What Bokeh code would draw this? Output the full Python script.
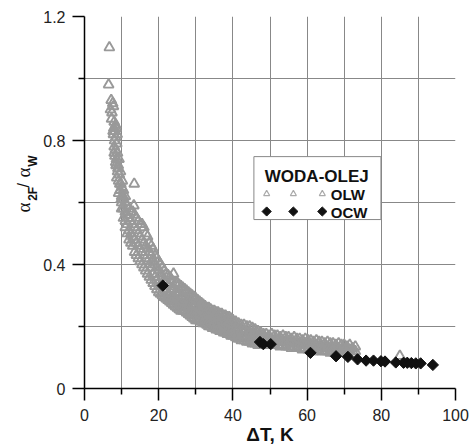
import math
from bokeh.plotting import figure
from bokeh.layouts import row
from bokeh.models import Range1d, FixedTicker, Label
from bokeh.embed import file_html
from bokeh.resources import INLINE

# ---------------- data ----------------
x_ticks = [0, 20, 40, 60, 80, 100]
x_minor = [10, 30, 50, 70, 90]
x_grid = [10, 20, 30, 40, 50, 60, 70, 80, 90, 100]
y_ticks = [0, 0.4, 0.8, 1.2]
y_tick_labels = ["0", "0.4", "0.8", "1.2"]
y_minor = [0.2, 0.6, 1.0]
y_grid = [0.2, 0.4, 0.6, 0.8, 1.0]

# OLW (open grey triangles) - steep top part and stray points
olw_sparse_x = [
    6.7, 6.5, 7.2, 7.6, 7.0, 7.4, 7.8, 7.3, 7.9, 8.2, 8.5,
    7.8, 8.1, 8.4, 8.0, 8.3, 8.7, 8.2, 8.6, 8.9, 8.5, 9.1,
    9.3, 8.9, 9.4, 9.7, 9.2, 9.8, 10.2, 9.6, 13.4, 13.3,
    8.0, 8.4, 7.7, 8.8, 8.0, 8.4, 9.0, 8.7, 9.5, 10.0, 9.2,
    10.4, 9.9, 11.0, 10.5, 85.0,
]
olw_sparse_y = [
    1.10, 0.98, 0.93, 0.92, 0.90, 0.89, 0.91, 0.87, 0.84, 0.83, 0.84,
    0.82, 0.80, 0.81, 0.78, 0.77, 0.79, 0.75, 0.74, 0.76, 0.72, 0.72,
    0.74, 0.70, 0.69, 0.70, 0.67, 0.66, 0.67, 0.64, 0.66, 0.59,
    0.86, 0.85, 0.83, 0.82, 0.76, 0.73, 0.71, 0.68, 0.66, 0.65, 0.63,
    0.62, 0.61, 0.62, 0.64, 0.105,
]
# OLW - the dense band, column by column (x, then the y values seen at that x)
olw_col_x = [
    10, 10.5, 11, 11.5, 12, 12.5, 13, 13.5, 14, 14.5, 15, 15.5, 16, 16.5,
    17, 17.5, 18, 18.5, 19, 19.5, 20, 20.5, 21, 21.5, 22, 22.5, 23, 23.5,
    24, 24.5, 25, 25.5, 26, 26.5, 27, 27.5, 28, 28.5, 29, 29.5, 30, 30.5,
    31, 31.5, 32, 32.5, 33, 33.5, 34, 34.5, 35, 35.5, 36, 36.5, 37, 37.5,
    38, 38.5, 39, 39.5, 40, 40.75, 41.5, 42.25, 43, 43.75, 44.5, 45.25,
    46, 46.75, 47.5, 48.25, 49, 49.75, 50.5, 51.25, 52, 52.75, 53.5, 54.25,
    55, 55.75, 56.5, 57.25, 58, 58.75, 59.5, 60.25, 61, 61.75, 62.5, 63.25,
    64, 64.75, 65.5, 66.25, 67, 67.75, 68.5, 69.25, 70, 70.75, 71.5, 72.25, 73,
]
olw_col_y = [
    [0.62, 0.60, 0.58], [0.61, 0.58, 0.55], [0.60, 0.57, 0.54, 0.52],
    [0.59, 0.56, 0.53, 0.50], [0.58, 0.55, 0.51, 0.48], [0.57, 0.54, 0.50, 0.47],
    [0.57, 0.53, 0.49, 0.46], [0.56, 0.52, 0.48, 0.44], [0.55, 0.51, 0.47, 0.43],
    [0.54, 0.50, 0.46, 0.42], [0.53, 0.49, 0.45, 0.41], [0.53, 0.48, 0.44, 0.40],
    [0.52, 0.47, 0.43, 0.39], [0.50, 0.46, 0.42, 0.38], [0.49, 0.45, 0.41, 0.37],
    [0.47, 0.44, 0.40, 0.36], [0.46, 0.43, 0.39, 0.35], [0.45, 0.41, 0.37, 0.34],
    [0.43, 0.40, 0.36, 0.33], [0.42, 0.39, 0.35, 0.32], [0.41, 0.38, 0.34, 0.31],
    [0.40, 0.37, 0.33, 0.305], [0.39, 0.36, 0.33, 0.30], [0.38, 0.35, 0.32, 0.295],
    [0.37, 0.34, 0.31, 0.29], [0.365, 0.335, 0.305, 0.285], [0.36, 0.33, 0.30, 0.28],
    [0.35, 0.32, 0.295, 0.275], [0.37, 0.32, 0.29, 0.27], [0.34, 0.31, 0.285, 0.265],
    [0.34, 0.31, 0.28, 0.26], [0.335, 0.305, 0.275, 0.255], [0.33, 0.30, 0.27, 0.25],
    [0.325, 0.295, 0.27, 0.25], [0.32, 0.29, 0.27, 0.25], [0.315, 0.285, 0.265, 0.245],
    [0.31, 0.28, 0.26, 0.24], [0.305, 0.28, 0.255, 0.235], [0.30, 0.27, 0.25, 0.23],
    [0.295, 0.27, 0.245, 0.225], [0.29, 0.27, 0.24, 0.22], [0.285, 0.265, 0.24, 0.22],
    [0.28, 0.26, 0.24, 0.22], [0.275, 0.255, 0.235, 0.215], [0.27, 0.25, 0.23, 0.21],
    [0.265, 0.245, 0.225, 0.21], [0.26, 0.24, 0.22, 0.205], [0.26, 0.24, 0.22, 0.20],
    [0.255, 0.235, 0.215, 0.20], [0.25, 0.23, 0.21, 0.195], [0.25, 0.23, 0.21, 0.195],
    [0.245, 0.225, 0.205, 0.19], [0.245, 0.225, 0.205, 0.19], [0.24, 0.22, 0.20, 0.185],
    [0.24, 0.22, 0.20, 0.185], [0.235, 0.215, 0.195, 0.18], [0.235, 0.215, 0.195, 0.18],
    [0.23, 0.21, 0.19, 0.175], [0.23, 0.21, 0.19, 0.175], [0.225, 0.205, 0.185, 0.17],
    [0.22, 0.205, 0.185, 0.17], [0.215, 0.195, 0.18, 0.165], [0.21, 0.19, 0.17, 0.16],
    [0.205, 0.19, 0.17, 0.155], [0.205, 0.185, 0.165, 0.155], [0.20, 0.18, 0.165, 0.15],
    [0.20, 0.18, 0.16, 0.15], [0.195, 0.175, 0.16, 0.145], [0.19, 0.175, 0.155, 0.145],
    [0.185, 0.17, 0.15, 0.14], [0.18, 0.165, 0.15, 0.14], [0.175, 0.155, 0.14],
    [0.175, 0.16, 0.145], [0.17, 0.155, 0.14], [0.175, 0.16, 0.145], [0.17, 0.155, 0.14],
    [0.17, 0.155, 0.14], [0.165, 0.15, 0.135], [0.17, 0.155, 0.14], [0.165, 0.15, 0.135],
    [0.165, 0.15, 0.135], [0.16, 0.145, 0.13], [0.165, 0.15, 0.135], [0.16, 0.145, 0.13],
    [0.16, 0.145, 0.13], [0.155, 0.14, 0.125], [0.16, 0.145, 0.13], [0.155, 0.14, 0.125],
    [0.155, 0.14, 0.125], [0.15, 0.135, 0.12], [0.155, 0.14, 0.125], [0.15, 0.135, 0.12],
    [0.15, 0.135, 0.12], [0.145, 0.13, 0.12], [0.15, 0.135, 0.12], [0.145, 0.13, 0.115],
    [0.145, 0.13, 0.12], [0.14, 0.125, 0.115], [0.145, 0.13, 0.115], [0.14, 0.125, 0.115],
    [0.14, 0.125, 0.115], [0.135, 0.12], [0.14, 0.125], [0.13, 0.12], [0.135, 0.12],
]

# OCW (black diamonds)
ocw_x = [21.1, 47.3, 48.2, 50.2, 60.9, 67.8, 71.0, 73.6, 75.9, 77.9,
         79.9, 81.0, 83.9, 86.0, 87.0, 88.1, 89.3, 90.6, 93.9]
ocw_y = [0.332, 0.150, 0.143, 0.143, 0.115, 0.104, 0.102, 0.094, 0.090, 0.090,
         0.088, 0.087, 0.084, 0.083, 0.083, 0.082, 0.081, 0.081, 0.076]

legend_title = "WODA-OLEJ"
series_names = ["OLW", "OCW"]
x_title = "\u0394T, K"

olw_x = list(olw_sparse_x)
olw_y = list(olw_sparse_y)
for cx, ys in zip(olw_col_x, olw_col_y):
    for yv in ys:
        olw_x.append(cx)
        olw_y.append(yv)

# ---------------- figure ----------------
FONT = "Liberation Sans"
p = figure(width=430, height=448,
           x_range=Range1d(0, 100), y_range=Range1d(0, 1.2),
           output_backend="svg", toolbar_location=None,
           min_border_left=42, min_border_right=15,
           min_border_top=16, min_border_bottom=60)
p.outline_line_color = None
p.background_fill_color = "white"
p.border_fill_color = "white"

xa = p.xaxis[0]
ya = p.yaxis[0]
xa.ticker = FixedTicker(ticks=x_ticks, minor_ticks=x_minor)
ya.ticker = FixedTicker(ticks=y_ticks, minor_ticks=y_minor)
ya.major_label_overrides = {t: s for t, s in zip(y_ticks, y_tick_labels)}
for ax in (xa, ya):
    ax.axis_line_color = "black"
    ax.axis_line_width = 1.5
    ax.major_tick_line_color = "black"
    ax.major_tick_line_width = 1.5
    ax.minor_tick_line_color = "black"
    ax.minor_tick_line_width = 1.5
    ax.major_tick_out = 12
    ax.major_tick_in = 0
    ax.minor_tick_out = 6
    ax.minor_tick_in = 0
    ax.major_label_text_font = FONT
    ax.major_label_text_font_size = "16px"
    ax.major_label_text_color = "#222222"
ya.axis_label = None
ya.major_label_standoff = 7
xa.major_label_standoff = 8
xa.axis_label = x_title
xa.axis_label_text_font = FONT
xa.axis_label_text_font_style = "bold"
xa.axis_label_text_font_size = "19px"
xa.axis_label_text_color = "#111111"
xa.axis_label_standoff = 0

p.xgrid[0].ticker = FixedTicker(ticks=x_grid)
p.ygrid[0].ticker = FixedTicker(ticks=y_grid)
for g in (p.xgrid[0], p.ygrid[0]):
    g.grid_line_color = "#888888"
    g.grid_line_width = 1

# data
p.scatter(olw_x, olw_y, marker="triangle", size=10, fill_color=None,
          line_color="#999999", line_width=1.9)
p.scatter(ocw_x, ocw_y, marker="square", size=8, angle=math.pi / 4,
          fill_color="#111111", line_color="#111111", line_width=1)

# legend (drawn by hand)
p.quad(left=[45.66], right=[79.9], top=[0.748], bottom=[0.545],
       fill_color="white", line_color="#888888", line_width=1)
p.scatter([49.1, 56.3, 64.1], [0.628, 0.628, 0.628], marker="triangle", size=6,
          fill_color=None, line_color="#aaaaaa", line_width=1.2)
p.scatter([49.1, 56.3, 64.1], [0.571, 0.571, 0.571], marker="square", size=6.5,
          angle=math.pi / 4, fill_color="#111111", line_color="#111111")
p.add_layout(Label(x=48.6, y=0.685, text=legend_title, text_font=FONT,
                   text_font_style="bold", text_font_size="17px",
                   text_align="left", text_baseline="alphabetic", text_color="#111111"))
p.add_layout(Label(x=66.4, y=0.626, text=series_names[0], text_font=FONT,
                   text_font_style="bold", text_font_size="15px",
                   text_align="left", text_baseline="alphabetic", text_color="#111111"))
p.add_layout(Label(x=66.4, y=0.567, text=series_names[1], text_font=FONT,
                   text_font_style="bold", text_font_size="15px",
                   text_align="left", text_baseline="alphabetic", text_color="#111111"))

# y-axis title in a narrow strip on the left (pixel coordinates)
yl = figure(width=40, height=448, x_range=Range1d(0, 40), y_range=Range1d(0, 448),
            output_backend="svg", toolbar_location=None,
            x_axis_type=None, y_axis_type=None, min_border=0)
yl.outline_line_color = None
yl.background_fill_color = "white"
yl.border_fill_color = "white"
ypieces = [
    ("\u03b1", 23, 212, "Liberation Serif", "normal", "19px"),
    ("2F", 32, 226, FONT, "bold", "12px"),
    ("/", 23, 242, FONT, "normal", "16px"),
    ("\u03b1", 23, 254, "Liberation Serif", "normal", "19px"),
    ("W", 32, 267, FONT, "bold", "12px"),
]
for txt, xx, yy, fnt, sty, fs in ypieces:
    yl.add_layout(Label(x=xx, y=yy, text=txt, text_font=fnt, text_font_style=sty,
                        text_font_size=fs, angle=math.pi / 2, text_align="left",
                        text_baseline="alphabetic", text_color="#111111"))

layout = row(yl, p)
open("out.html", "w").write(file_html(layout, INLINE))
